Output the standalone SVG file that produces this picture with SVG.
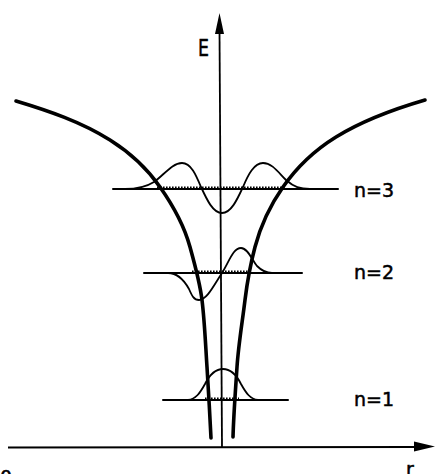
<svg xmlns="http://www.w3.org/2000/svg" width="435" height="474" viewBox="0 0 435 474">
<style>
.pot{fill:none;stroke:#000;stroke-width:3.6;stroke-linecap:round;stroke-linejoin:round}
.lvl{fill:none;stroke:#000;stroke-width:2;stroke-linecap:round}
.wf{fill:none;stroke:#000;stroke-width:1.8;stroke-linecap:round;stroke-linejoin:round}
.hat{fill:none;stroke:#000;stroke-width:2.2;stroke-dasharray:1.6 1.4}
.ax{fill:none;stroke:#000;stroke-width:1.8}
.lbl{font-family:"DejaVu Sans",sans-serif;font-size:19px;fill:#000;stroke:#000;stroke-width:0.5}
</style>
<rect width="435" height="474" fill="#fff"/>
<g id="axes">
<line class="ax" x1="219.5" y1="30" x2="222" y2="447"/>
<polygon points="219.5,13 215,34 224,34" fill="#000"/>
<line class="ax" x1="8" y1="447.5" x2="418" y2="447"/>
<polygon points="435,446.5 414,441.5 414,451.5" fill="#000"/>
<text class="lbl" x="198" y="56" style="font-size:23px" textLength="11" lengthAdjust="spacingAndGlyphs">E</text>
<text class="lbl" x="406" y="476">r</text>
<text class="lbl" x="0" y="484">0</text>
</g>
<g id="potential">
<path class="pot" d="M16,101 C48.6,110.8 81.2,121.9 110,140 C129.4,152.2 146.9,168.2 160,187 C172.9,205.3 184.1,225.4 190,247 C194.8,264.4 199.8,282 202,300 C204.7,322.2 205.5,344.6 207,367 C208.5,390.7 209.8,414.3 211,438"/>
<path class="pot" d="M425,100 C394.2,109 363.3,120.1 336,137 C315.3,149.8 296.9,167.1 283,187 C270.3,205.1 260.7,225.6 255,247 C250.4,264.4 247.2,282.1 245,300 C242.3,322.3 238.5,344.5 237,367 C235.5,390.4 233.7,413.6 233,437"/>
</g>
<g id="level-n3">
<line class="lvl" x1="113" y1="189" x2="338" y2="189"/>
<line class="hat" x1="157" y1="187.5" x2="286" y2="187.5"/>
<path class="wf" d="M125,189 C138,189 146,187 154,182 C164,175 172,163 182,163 C191,163 196,175 201,187 C207,200 213,213 222,213 C231,213 237,200 243,187 C248,175 254,163 263,163 C272,163 278,172 286,180 C294,187 300,189 310,189"/>
<text class="lbl" x="354" y="197">n=3</text>
</g>
<g id="level-n2">
<line class="lvl" x1="144" y1="273" x2="302" y2="273"/>
<line class="hat" x1="192" y1="271.5" x2="250" y2="271.5"/>
<path class="wf" d="M168,273 C178,273 184,280 189,289 C192,296 194,300 199,300 C207,300 214,285 222,273 C229,262 233,248 241,248 C248,248 252,260 257,266 C262,271 266,273 272,273"/>
<text class="lbl" x="354" y="279">n=2</text>
</g>
<g id="level-n1">
<line class="lvl" x1="163" y1="400" x2="288" y2="400"/>
<line class="hat" x1="205" y1="398.5" x2="239" y2="398.5"/>
<path class="wf" d="M188,400 C196,399 200,393 205,384 C210,374 215,369 223,369 C231,369 236,374 241,384 C246,393 250,399 258,400"/>
<text class="lbl" x="354" y="406">n=1</text>
</g>
</svg>
